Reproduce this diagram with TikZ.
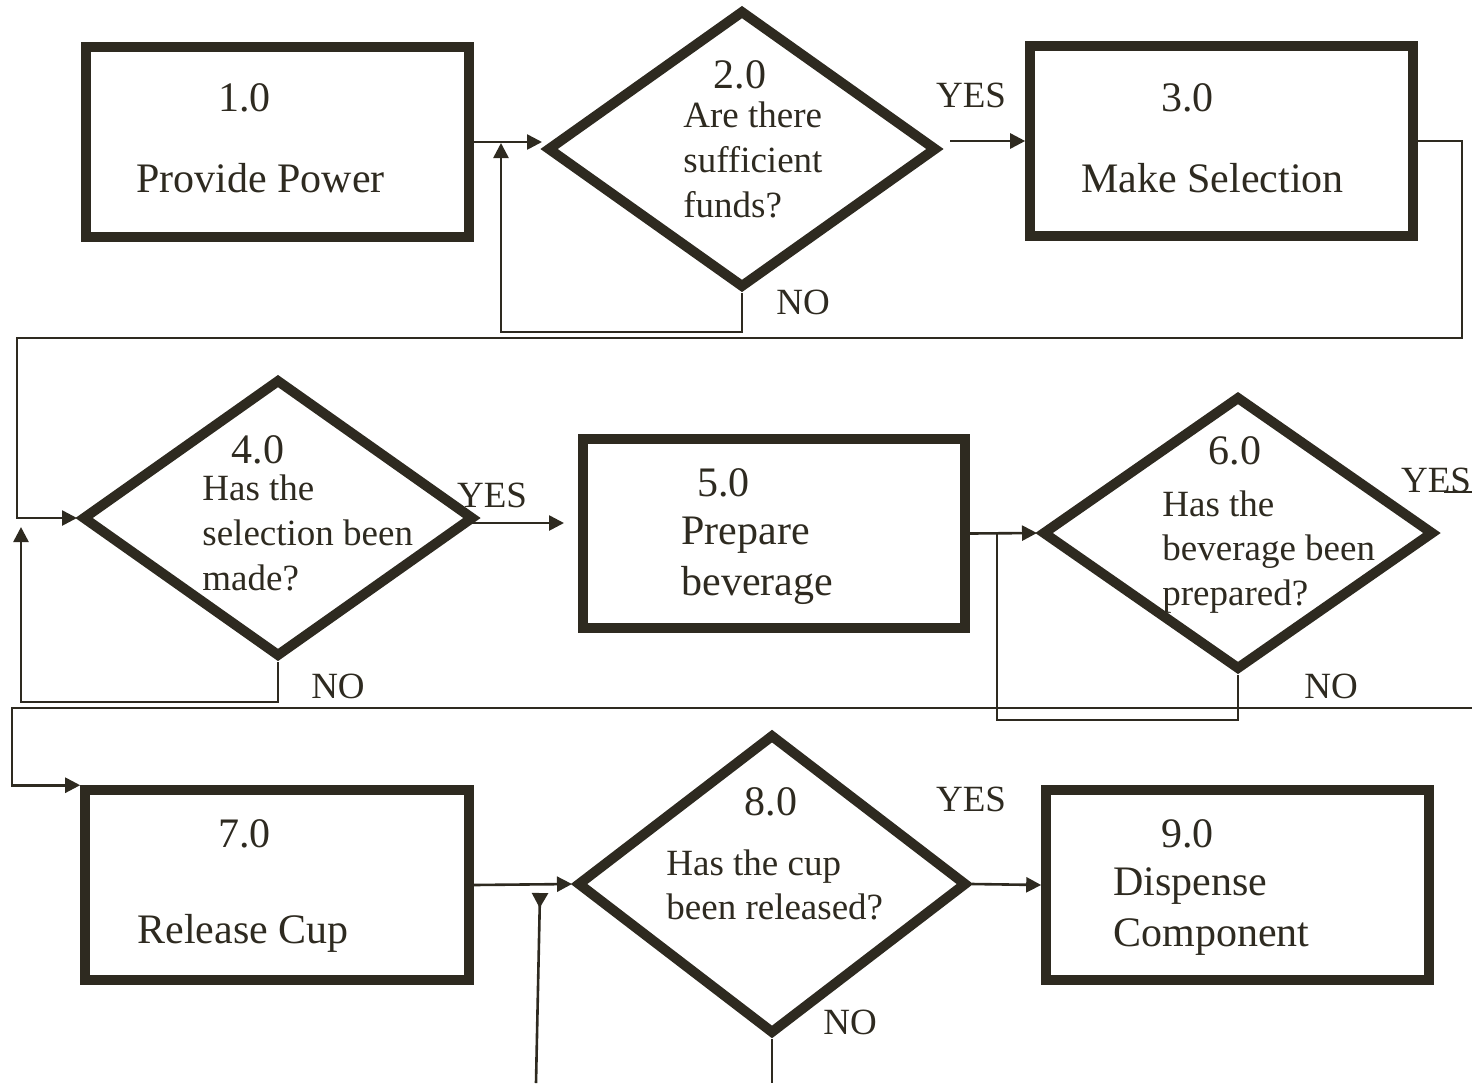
\documentclass[tikz,border=0pt]{standalone}
\usepackage{fontspec}
\setmainfont{Liberation Serif}
\usepackage{tikz}
\usetikzlibrary{shapes.geometric,arrows.meta,positioning}
\definecolor{ink}{RGB}{46,42,32}

\begin{document}
\begin{tikzpicture}[
      x=0.5pt, y=-0.5pt,
      >={Triangle[length=7.5pt,width=7.5pt]},
      every node/.style={text=ink, inner sep=0pt},
      procbox/.style={rectangle, draw=ink, line width=4.8pt,
        minimum width=191.5pt, minimum height=95pt},
      decision/.style={diamond, draw=ink, line width=5pt, miter limit=20},
      numtxt/.style={font=\fontsize{21}{25}\selectfont},
      boxtxt/.style={font=\fontsize{21}{25.5}\selectfont, align=left, anchor=west},
      dectxt/.style={font=\fontsize{18.5}{22.3}\selectfont, align=left, anchor=west},
      lbl/.style={font=\fontsize{18.5}{22}\selectfont},
      ln/.style={draw=ink, line width=1.3pt},
      arr/.style={ln, ->},
    ]
    \useasboundingbox (0,0) rectangle (1472,1083);

    % ── ROW 1 ───────────────────────────────────────────────────
    \node[procbox] (b1) at (277.5,142) {};
    \node[numtxt, anchor=west] (n1) at (218,98) {1.0};
    \node[boxtxt] (t1) at (136,178) {Provide Power};

    \node[decision, minimum width=195pt, minimum height=139pt] (d2) at (742,149) {};
    \node[numtxt] (n2) at (740,75) {2.0};
    \node[dectxt] (t2) at (683,160) {Are there\\sufficient\\funds?};

    \node[procbox] (b3) at (1221.5,141) {};
    \node[numtxt, anchor=west] (n3) at (1161,98) {3.0};
    \node[boxtxt] (t3) at (1081,178) {Make Selection};

    \node[lbl] (y2) at (971,95) {YES};
    \node[lbl] (no2) at (803,302) {NO};

    % ── ROW 2 ───────────────────────────────────────────────────
    \node[decision, minimum width=196pt, minimum height=139pt] (d4) at (278,518) {};
    \node[numtxt] (n4) at (258,450) {4.0};
    \node[dectxt] (t4) at (202,533) {Has the\\selection been\\made?};

    \node[procbox, minimum width=191pt, minimum height=94.5pt] (b5) at (774,533.5) {};
    \node[numtxt, anchor=west] (n5) at (697,483) {5.0};
    \node[boxtxt] (t5) at (681,561) {Prepare\\beverage};

    \node[decision, minimum width=196pt, minimum height=137pt] (d6) at (1238,533) {};
    \node[numtxt] (n6) at (1235,451) {6.0};
    \node[dectxt] (t6) at (1162,552) {Has the\\beverage been\\prepared?};

    \node[lbl] (y4) at (492,495) {YES};
    \node[lbl] (no4) at (338,686) {NO};
    \node[lbl] (y6) at (1436,480) {YES};
    \node[lbl] (no6) at (1331,686) {NO};

    % ── ROW 3 ───────────────────────────────────────────────────
    \node[procbox, minimum width=192pt] (b7) at (277,885) {};
    \node[numtxt, anchor=west] (n7) at (218,834) {7.0};
    \node[boxtxt] (t7) at (137,933) {Release Cup};

    \node[decision, minimum width=195pt, minimum height=150pt] (d8) at (772,884) {};
    \node[numtxt] (n8) at (771,802) {8.0};
    \node[dectxt] (t8) at (666,885) {Has the cup\\been released?};

    \node[procbox] (b9) at (1237.5,885) {};
    \node[numtxt, anchor=west] (n9) at (1161,834) {9.0};
    \node[boxtxt] (t9) at (1113,912) {Dispense\\Component};

    \node[lbl] (y8) at (971,799) {YES};
    \node[lbl] (no8) at (850,1022) {NO};

    % ── CONNECTORS ──────────────────────────────────────────────
    \coordinate (m2) at (501,143);
    \coordinate (r1) at (1462,338);
    \coordinate (l1) at (17,338);
    \coordinate (m4) at (21,527);
    \coordinate (r2) at (1472,708);
    \coordinate (l2) at (12,708);
    \coordinate (f8) at (536,1083);
    \coordinate (g8) at (540,893);

    \draw[arr] (b1.east) -- (b1.east -| d2.west);
    \draw[arr] (d2.south) -- ++(0,39) -| (m2);
    \draw[arr] ([xshift=4pt]d2.east |- b3.west) -- (b3.west);
    \draw[arr] (b3.east) -| (r1) -- (l1) |- (d4.west);

    \draw[arr] (d4.south) -- ++(0,40) -| (m4);
    \draw[arr] ([shift={(-7,5)}]d4.east) -- ++(92,0);
    \draw[arr] (b5.east) -- (d6.west);
    \draw[ln] (d6.south) -- ++(0,45) -| ([xshift=13.5pt]b5.east);
    \draw[ln] ([shift={(5,-41)}]d6.east) -- ++(32,0);
    \draw[arr] (r2) -- (l2) |- (b7.north west);

    \draw[arr] (b7.east) -- (d8.west);
    \draw[ln, -{Triangle[reversed,length=7.5pt,width=8pt]}] (f8) -- (g8);
    \draw[ln] (d8.south) -- (d8.south |- f8);
    \draw[arr] (d8.east) -- (b9.west);

    \end{tikzpicture}
\end{document}
